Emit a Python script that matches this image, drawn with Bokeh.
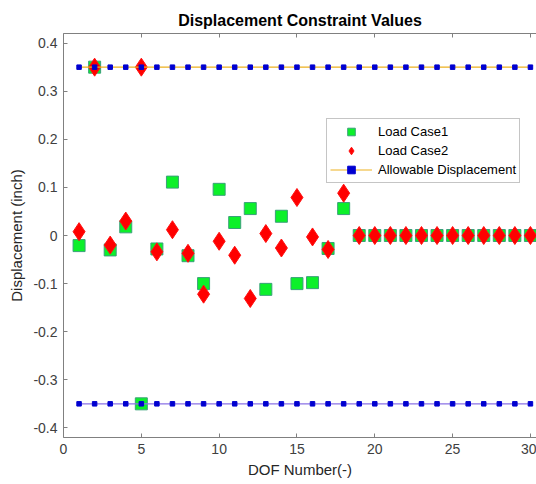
from bokeh.plotting import figure
from bokeh.models import (LinearAxis, FixedTicker, CustomJSTickFormatter, Legend,
                          LegendItem, Range1d, ColumnDataSource)
from bokeh.embed import file_html
from bokeh.resources import INLINE

# ---- data ----
dof = list(range(1, 31))
load_case1 = [-0.021, 0.35, -0.03, 0.018, -0.35, -0.028, 0.111, -0.042, -0.100, 0.096,
              0.027, 0.056, -0.112, 0.040, -0.100, -0.098, -0.027, 0.056,
              0, 0, 0, 0, 0, 0, 0, 0, 0, 0, 0, 0]
load_case2 = [0.008, 0.35, -0.020, 0.030, 0.35, -0.034, 0.012, -0.037, -0.122, -0.012,
              -0.041, -0.131, 0.004, -0.026, 0.079, -0.003, -0.029, 0.088,
              0, 0, 0, 0, 0, 0, 0, 0, 0, 0, 0, 0]
allow_upper = [0.35] * 30
allow_lower = [-0.35] * 30
x_ticks = [0, 5, 10, 15, 20, 25, 30]
y_ticks = [-0.4, -0.3, -0.2, -0.1, 0, 0.1, 0.2, 0.3, 0.4]

FONT = "Liberation Sans"

p = figure(width=536, height=482, output_backend="svg", toolbar_location=None,
           x_range=Range1d(0, 30.39), y_range=Range1d(-0.42, 0.42),
           min_border_left=63, min_border_right=0, min_border_top=33, min_border_bottom=45,
           background_fill_color="white", border_fill_color="white")
p.outline_line_color = None
p.grid.visible = False

p.title.text = "Displacement Constraint Values"
p.title.align = "center"
p.title.text_font = FONT
p.title.text_font_size = "16px"
p.title.text_font_style = "bold"
p.title.text_color = "#000000"

fmt = CustomJSTickFormatter(code="return Math.abs(tick) < 1e-9 ? '0' : (Math.round(tick*10)/10).toString();")

def style_axis(ax, ticks):
    ax.ticker = FixedTicker(ticks=ticks)
    ax.axis_line_color = "#808080"
    ax.major_tick_line_color = "#808080"
    ax.minor_tick_line_color = None
    ax.major_tick_in = 4
    ax.major_tick_out = 0
    ax.major_label_text_font = FONT
    ax.major_label_text_font_size = "14px"
    ax.major_label_text_color = "#404040"
    ax.axis_label_text_font = FONT
    ax.axis_label_text_font_size = "15px"
    ax.axis_label_text_font_style = "normal"
    ax.axis_label_text_color = "#262626"

style_axis(p.xaxis[0], x_ticks)
style_axis(p.yaxis[0], y_ticks)
p.xaxis[0].axis_label = "DOF Number(-)"
p.yaxis[0].axis_label = "Displacement (inch)"
p.yaxis[0].formatter = fmt
p.xaxis[0].major_label_standoff = 6
p.xaxis[0].axis_label_standoff = 4
p.yaxis[0].major_label_standoff = 6

top = LinearAxis()
style_axis(top, x_ticks)
top.major_label_text_font_size = "0px"
top.major_label_text_alpha = 0
top.major_label_standoff = 0
p.add_layout(top, "above")

src = ColumnDataSource(dict(x=dof, lc1=load_case1, lc2=load_case2,
                            up=allow_upper, lo=allow_lower))

r1 = p.scatter("x", "lc1", source=src, marker="square", size=12,
               fill_color="#0cf02a", line_color="#3aa07a", line_width=1)
r2 = p.scatter("x", "lc2", source=src, marker="diamond", size=18,
               fill_color="#ff0000", line_color="#ff1010", line_width=1)
l_up = p.line("x", "up", source=src, line_color="#EDB120", line_width=1.2)
s_up = p.scatter("x", "up", source=src, marker="square", size=4.5,
                 fill_color="#0000d0", line_color="#0000d0")
l_lo = p.line("x", "lo", source=src, line_color="#8a72e6", line_width=1.2)
s_lo = p.scatter("x", "lo", source=src, marker="square", size=4.5,
                 fill_color="#0000d0", line_color="#0000d0")

legend = Legend(items=[
    LegendItem(label="Load Case1", renderers=[r1]),
    LegendItem(label="Load Case2", renderers=[r2]),
    LegendItem(label="Allowable Displacement", renderers=[l_up, s_up]),
], location=(263, 254))
legend.label_text_font = FONT
legend.label_text_font_size = "13px"
legend.label_text_color = "#000000"
legend.border_line_color = "#8c8c8c"
legend.border_line_width = 1
legend.background_fill_color = "white"
legend.background_fill_alpha = 1
legend.glyph_width = 42
legend.glyph_height = 19
legend.label_height = 19
legend.label_standoff = 6
legend.spacing = 0
legend.padding = 3
legend.margin = 0
p.add_layout(legend, "center")

open("out.html", "w").write(file_html(p, INLINE))
